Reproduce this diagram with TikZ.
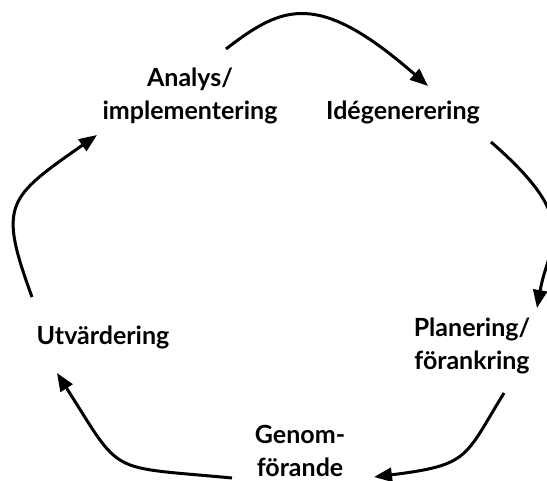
\documentclass[tikz,border=0pt]{standalone}
\usepackage{fontspec}
\setmainfont{Lato}
\usetikzlibrary{arrows.meta}
\begin{document}
\begin{tikzpicture}[x=1pt,y=-1pt,
  stage/.style={font=\bfseries\fontsize{25}{33}\selectfont, align=center, inner sep=0pt},
  flow/.style={line width=3pt, -{Triangle[length=18pt,width=14pt]}}]
\useasboundingbox (0,0) rectangle (547,481);
\clip (0,0) rectangle (547,481);

% the five stages of the cycle (base = baseline of the last line)
\node[stage, anchor=base] (ana)  at (190,120) {Analys/\\implementering};
\node[stage, anchor=base] (ide)  at (403,120) {Idégenerering};
\node[stage, anchor=base] (plan) at (472,370) {Planering/\\förankring};
\node[stage, anchor=base] (gen)  at (300,477) {Genom-\\förande};
\node[stage, anchor=base] (utv)  at (103,345) {Utvärdering};

% end points of the arrows between the stages
\coordinate (anaout)  at (226,49);
\coordinate (idein)   at (428,86);
\coordinate (ideout)  at (491,142);
\coordinate (planin)  at (537,308);
\coordinate (planout) at (504,393);
\coordinate (genin)   at (374,477);
\coordinate (genout)  at (232,478);
\coordinate (utvin)   at (57,373);
\coordinate (utvout)  at (32,297);
\coordinate (anain)   at (97,135);

\draw[flow] (anaout)  .. controls (283,5)   and (318,-10) .. (idein);
\draw[flow] (ideout)  .. controls (583,222) and (549,241) .. (planin);
\draw[flow] (planout) .. controls (464,458) and (470,465) .. (genin);
\draw[flow] (genout)  .. controls (106,466) and (123,477) .. (utvin);
\draw[flow] (utvout)  .. controls (-2,204)  and (7,198)   .. (anain);
\end{tikzpicture}
\end{document}
